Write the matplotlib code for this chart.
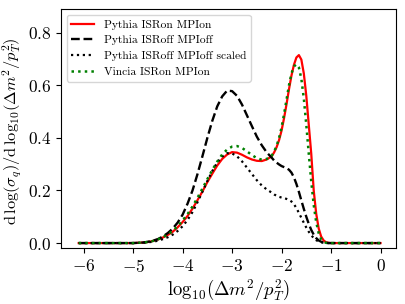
import numpy as np
import matplotlib
matplotlib.use("Agg")
import matplotlib.pyplot as plt

plt.rcParams.update({
    "font.family": "serif",
    "font.serif": ["cmr10"],
    "mathtext.fontset": "cm",
    "axes.formatter.use_mathtext": True,
    "axes.unicode_minus": True,
})

# x grid: log10(dm^2/pT^2)
x_coarse_left = [-6.1, -6.0, -5.9, -5.8, -5.7, -5.6, -5.5, -5.4, -5.3, -5.2, -5.1, -5.0,
                 -4.9, -4.8, -4.7, -4.6, -4.5, -4.4, -4.3, -4.2, -4.1, -4.0,
                 -3.9, -3.8, -3.7, -3.6, -3.5, -3.4, -3.3, -3.2, -3.1, -3.0,
                 -2.9, -2.8, -2.7, -2.6, -2.5, -2.4, -2.3]
x_fine = [-2.2, -2.15, -2.1, -2.05, -2.0, -1.95, -1.9, -1.85, -1.8, -1.75, -1.7, -1.65,
          -1.6, -1.55, -1.5, -1.45, -1.4, -1.35, -1.3, -1.25, -1.2, -1.15, -1.1, -1.05, -1.0]
x_coarse_right = [-0.9, -0.8, -0.7, -0.6, -0.5, -0.4, -0.3, -0.2, -0.1, 0.0]
x = x_coarse_left + x_fine + x_coarse_right

zeros12 = [0.0] * 12
zeros10 = [0.0] * 10

pythia_on = zeros12 + [
    0.001, 0.002, 0.004, 0.008, 0.014, 0.021, 0.031, 0.043, 0.060, 0.080,
    0.103, 0.131, 0.163, 0.196, 0.232, 0.264, 0.295, 0.320, 0.337, 0.346,
    0.344, 0.336, 0.326, 0.318, 0.313, 0.312, 0.318,
    0.330, 0.345, 0.365, 0.392, 0.428, 0.475, 0.528, 0.585, 0.637, 0.678, 0.706, 0.715,
    0.698, 0.645, 0.560, 0.450, 0.340, 0.200, 0.112, 0.056, 0.025, 0.010, 0.003, 0.001, 0.0,
] + zeros10

pythia_off = zeros12 + [
    0.001, 0.002, 0.005, 0.009, 0.015, 0.025, 0.038, 0.055, 0.078, 0.108,
    0.150, 0.200, 0.262, 0.330, 0.400, 0.465, 0.520, 0.558, 0.580, 0.578,
    0.560, 0.527, 0.486, 0.445, 0.405, 0.372, 0.345,
    0.325, 0.314, 0.306, 0.299, 0.293, 0.289, 0.285, 0.279, 0.268, 0.250, 0.225, 0.195,
    0.162, 0.130, 0.100, 0.073, 0.050, 0.032, 0.019, 0.010, 0.005, 0.002, 0.001, 0.0, 0.0,
] + zeros10

pythia_off_scaled = zeros12 + [
    0.001, 0.001, 0.003, 0.005, 0.009, 0.015, 0.022, 0.032, 0.046, 0.064,
    0.088, 0.118, 0.155, 0.195, 0.236, 0.274, 0.307, 0.329, 0.342, 0.341,
    0.330, 0.311, 0.287, 0.263, 0.239, 0.219, 0.204,
    0.192, 0.185, 0.180, 0.176, 0.173, 0.171, 0.168, 0.164, 0.158, 0.148, 0.133, 0.115,
    0.096, 0.077, 0.059, 0.043, 0.030, 0.019, 0.011, 0.006, 0.003, 0.001, 0.0005, 0.0, 0.0,
] + zeros10

vincia_on = zeros12 + [
    0.001, 0.002, 0.004, 0.008, 0.014, 0.022, 0.033, 0.046, 0.064, 0.086,
    0.110, 0.139, 0.172, 0.207, 0.243, 0.278, 0.310, 0.337, 0.356, 0.367,
    0.369, 0.362, 0.349, 0.335, 0.323, 0.317, 0.320,
    0.332, 0.348, 0.370, 0.400, 0.440, 0.490, 0.545, 0.600, 0.645, 0.672, 0.680, 0.668,
    0.625, 0.550, 0.450, 0.340, 0.235, 0.145, 0.080, 0.038, 0.015, 0.005, 0.001, 0.0, 0.0,
] + zeros10

labels = ["Pythia ISRon MPIon", "Pythia ISRoff MPIoff",
          "Pythia ISRoff MPIoff scaled", "Vincia ISRon MPIon"]

fig = plt.figure(figsize=(4.06, 3.04), dpi=100)
ax = fig.add_axes([0.150, 0.184, 0.825, 0.786])

ax.plot(x, pythia_on, color="red", lw=1.6, ls="-", label=labels[0])
ax.plot(x, pythia_off, color="black", lw=1.7, ls="--", label=labels[1])
ax.plot(x, pythia_off_scaled, color="black", lw=1.6, ls=":", label=labels[2])
ax.plot(x, vincia_on, color="green", lw=1.8, ls=":", label=labels[3])

ax.set_xlim(-6.46, 0.31)
ax.set_ylim(-0.019, 0.89)
ax.set_xticks([-6, -5, -4, -3, -2, -1, 0])
ax.set_yticks([0.0, 0.2, 0.4, 0.6, 0.8])
ax.tick_params(labelsize=12.5, length=3.5, width=0.8)
ax.set_xlabel(r"$\mathrm{log}_{10}(\Delta m^2/p_T^2)$", fontsize=13.5, labelpad=2)
ax.set_ylabel(r"$\mathrm{d}\,\mathrm{log}(\sigma_q)/\mathrm{d}\,\mathrm{log}_{10}(\Delta m^2/p_T^2)$",
              fontsize=11.8, labelpad=2)
ax.yaxis.set_label_coords(-0.11, 0.49)
ax.legend(loc="upper left", fontsize=8.3, frameon=True, handlelength=2.0)

fig.savefig("out.png", dpi=100)
